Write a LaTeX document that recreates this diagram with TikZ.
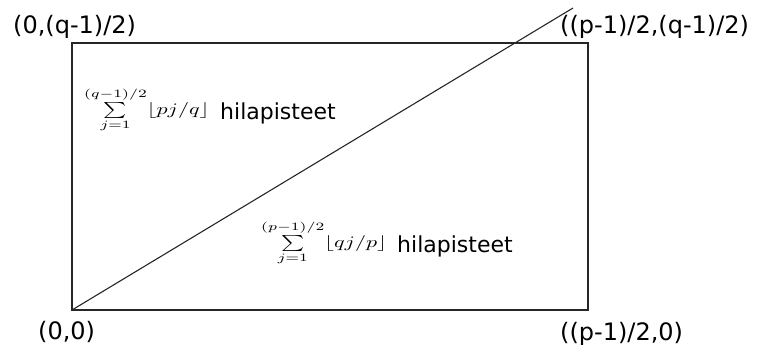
\documentclass[tikz,border=0pt]{standalone}
\usepackage{fix-cm}
\usepackage{graphicx}
\usepackage{amsmath}
\usepackage[no-math]{fontspec}
\setmainfont{DejaVu Sans}
\begin{document}
\begin{tikzpicture}[x=1pt,y=-1pt,
  lbl/.style={inner sep=0pt,font=\fontsize{24}{28}\selectfont},
  word/.style={inner sep=0pt,font=\fontsize{22}{26}\selectfont},
  sumnode/.style={inner sep=0pt},
  frame/.style={line width=1.6pt,draw=black!85},
  diag/.style={line width=1.1pt,draw=black!85}]
\useasboundingbox (0,0) rectangle (757,345);
\coordinate (O) at (72,310);
\coordinate (A) at (588,310);
\coordinate (B) at (588,43);
\coordinate (C) at (72,43);
\coordinate (E) at (573,8);
\draw[frame] (O) -- (A) -- (B) -- (C) -- cycle;
\draw[diag] (O) -- (E);
\node[lbl,anchor=base west] (l00) at (38,339) {(0,0)};
\node[lbl,anchor=base west] (lp0) at (560,340) {((p-1)/2,0)};
\node[lbl,anchor=base west] (l0q) at (13,34) {(0,(q-1)/2)};
\node[lbl,anchor=base west] (lpq) at (560,34) {((p-1)/2,(q-1)/2)};
\node[sumnode,anchor=base west] (s1) at (84,114) {\scalebox{2.2}[1.6]{$\textstyle\sum\limits_{j=1}^{(q-1)/2}\lfloor pj/q\rfloor$}};
\node[word,anchor=base west] (h1) at (220,119) {hilapisteet};
\node[sumnode,anchor=base west] (s2) at (261,247) {\scalebox{2.2}[1.6]{$\textstyle\sum\limits_{j=1}^{(p-1)/2}\lfloor qj/p\rfloor$}};
\node[word,anchor=base west] (h2) at (397,252) {hilapisteet};
\end{tikzpicture}
\end{document}
